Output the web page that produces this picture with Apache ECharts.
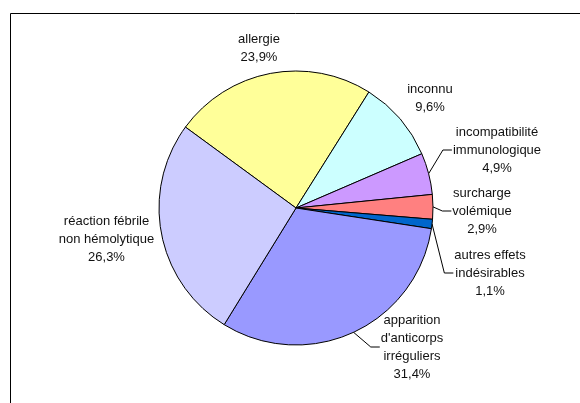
<!DOCTYPE html>
<html>
<head>
<meta charset="utf-8">
<script src="https://cdn.jsdelivr.net/npm/echarts@6/dist/echarts.min.js"></script>
<style>
  html, body { margin: 0; padding: 0; background: #fff; }
  #chart { width: 580px; height: 403px; }
</style>
</head>
<body>
<div id="chart"></div>
<script>
// Effets indésirables receveurs : répartition par type (%)
const categories = [
  'allergie',
  'inconnu',
  'incompatibilité\nimmunologique',
  'surcharge\nvolémique',
  'autres effets\nindésirables',
  'apparition\nd\'anticorps\nirréguliers',
  'réaction fébrile\nnon hémolytique'
];
const shares = [23.9, 9.6, 4.9, 2.9, 1.1, 31.4, 26.3];
const sliceColors = ['#FFFF99', '#CCFFFF', '#CC99FF', '#FF8080', '#0066CC', '#9999FF', '#CCCCFF'];

// Pie geometry and label placement (offsets of each label block centre from the pie centre)
const CX = 296, CY = 208, R = 137;
const START = 143.8; // degrees, ECharts convention (90 = 12 o'clock)
const labelOffsets = [
  [-37, -160], [134, -109.5], [201, -58], [186, 3], [194, 65], [116, 139], [-189.5, 31]
];
const withLeader = [false, false, true, true, true, true, false];

const total = shares.reduce((a, b) => a + b, 0);
// mid-angle of every slice, measured clockwise from 12 o'clock
const midAngles = [];
{
  let acc = 90 - START;
  shares.forEach(v => {
    const span = v / total * 360;
    midAngles.push(acc + span / 2);
    acc += span;
  });
}

const fmt = v => String(v).replace('.', ',') + '%';

const chart = echarts.init(document.getElementById('chart'), null, { renderer: 'canvas' });
chart.setOption({
  animation: false,
  backgroundColor: '#ffffff',
  graphic: [{
    type: 'polyline',
    silent: true,
    shape: { points: [[10.5, 403], [10.5, 13.5], [580, 13.5]] },
    style: { stroke: '#000', lineWidth: 1, fill: null }
  }],
  series: [{
    type: 'pie',
    center: [CX, CY],
    radius: R,
    startAngle: START,
    clockwise: true,
    avoidLabelOverlap: false,
    silent: true,
    emphasis: { disabled: true },
    itemStyle: { borderColor: '#000', borderWidth: 1 },
    label: {
      show: true,
      position: 'outside',
      color: '#111',
      fontFamily: '"Liberation Sans", Arial, sans-serif',
      fontSize: 13,
      lineHeight: 18,
      align: 'center',
      formatter: p => p.name + '\n' + fmt(shares[p.dataIndex])
    },
    labelLine: { show: true, lineStyle: { color: '#000', width: 1 } },
    labelLayout: params => {
      const i = params.dataIndex;
      const x = CX + labelOffsets[i][0];
      const y = CY + labelOffsets[i][1];
      const out = { x: x, y: y, align: 'center', verticalAlign: 'middle' };
      if (withLeader[i]) {
        const a = midAngles[i] * Math.PI / 180;
        const sx = CX + R * Math.sin(a), sy = CY - R * Math.cos(a);
        const left = x - params.labelRect.width / 2;
        out.labelLinePoints = [[sx, sy], [left - 10, y], [left - 1, y]];
      }
      return out;
    },
    data: categories.map((name, i) => ({
      name: name,
      value: shares[i],
      itemStyle: { color: sliceColors[i] },
      labelLine: { show: withLeader[i] }
    }))
  }]
});
</script>
</body>
</html>
